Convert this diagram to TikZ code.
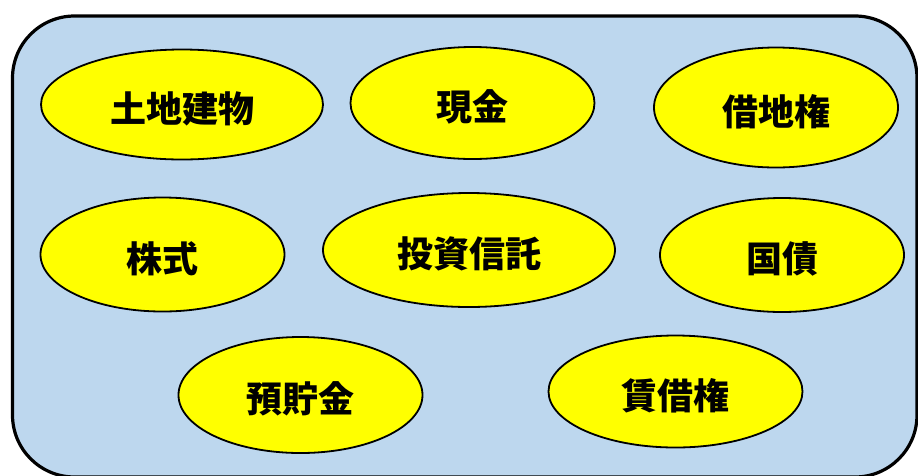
\documentclass[tikz,border=0pt]{standalone}
\usepackage{fontspec}
\newfontfamily\cjk{Noto Sans CJK JP}
\usetikzlibrary{shapes.geometric}
\definecolor{panelblue}{HTML}{BDD7EE}
\definecolor{itemyellow}{HTML}{FFFF00}
\newcommand{\itemtext}[1]{\raisebox{-4pt}[\height][\depth]{#1}}
\tikzset{
  panel/.style={draw=black, line width=3.2pt, fill=panelblue, rounded corners=62pt},
  item/.style={ellipse, draw=black, line width=1.8pt, fill=itemyellow, inner sep=0pt,
    font=\cjk\bfseries\fontsize{36}{40}\selectfont, text=black},
}
\begin{document}
\begin{tikzpicture}[x=1pt,y=-1pt]
\useasboundingbox (0,0) rectangle (918,475);
\draw[panel] (12.5,16) rectangle (917,477);
\node[item, minimum width=282pt, minimum height=110pt] (tochi) at (182,104.5) {\itemtext{土地建物}};
\node[item, minimum width=244pt, minimum height=112pt] (genkin) at (472.5,103) {\itemtext{現金}};
\node[item, minimum width=244pt, minimum height=120pt] (shakuchi) at (776,107.5) {\itemtext{借地権}};
\node[item, minimum width=244pt, minimum height=114pt] (kabu) at (162.5,254.5) {\itemtext{株式}};
\node[item, minimum width=292pt, minimum height=114pt] (toshin) at (469,250) {\itemtext{投資信託}};
\node[item, minimum width=244pt, minimum height=114pt] (kokusai) at (782,255) {\itemtext{国債}};
\node[item, minimum width=244pt, minimum height=116pt] (yochokin) at (300.5,395) {\itemtext{預貯金}};
\node[item, minimum width=254pt, minimum height=112pt] (chinshaku) at (675.5,391.5) {\itemtext{賃借権}};
\end{tikzpicture}
\end{document}
